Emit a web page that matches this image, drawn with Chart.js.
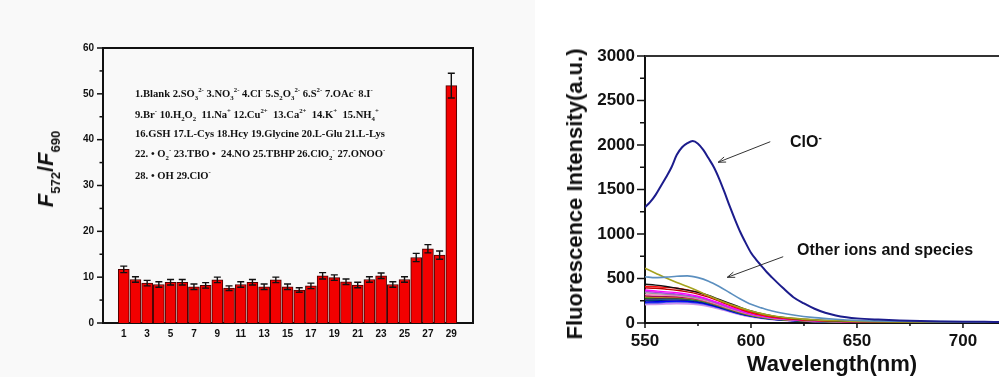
<!DOCTYPE html>
<html><head><meta charset="utf-8">
<script src="https://cdn.jsdelivr.net/npm/chart.js@4.4.0/dist/chart.umd.min.js"></script>
<style>
html,body{margin:0;padding:0;background:#fff;}
#wrap{position:relative;width:999px;height:377px;overflow:hidden;background:#fff;}
#leftBox{position:absolute;left:0;top:0;width:535px;height:377px;background:#f9f9f9;}
#rightBox{position:absolute;left:535px;top:0;width:464px;height:377px;background:#fff;}
canvas{display:block;}
.t{position:absolute;white-space:nowrap;color:#111;}
.rot{transform:translate(-50%,-50%) rotate(-90deg);}
.leg{font-family:"Liberation Serif",serif;font-weight:bold;font-size:10.6px;line-height:12px;}
.leg sub,.leg sup{font-size:6.8px;line-height:0;}
.ytl{font-family:"Liberation Sans",Arial,sans-serif;font-weight:bold;font-size:22px;}
.ytl i{font-style:italic;}
.ytl sub{font-size:13px;font-style:normal;vertical-align:-7px;line-height:0;}
.ann{font-family:"Liberation Sans",Arial,sans-serif;font-weight:bold;font-size:16px;line-height:18px;}
.ann sup{font-size:10px;line-height:0;}
</style></head>
<body>
<div id="wrap">
  <div id="leftBox"><canvas id="c1" width="535" height="377"></canvas></div>
  <div id="rightBox"><canvas id="c2" width="464" height="377"></canvas></div>

  <div class="t ytl rot" style="left:46px;top:169px;"><i>F</i><sub>572</sub>/<i>F</i><sub>690</sub></div>

  <div class="t leg" style="left:135px;top:88px;">1.Blank 2.SO<sub>3</sub><sup>2-</sup> 3.NO<sub>3</sub><sup>2-</sup> 4.Cl<sup>-</sup> 5.S<sub>2</sub>O<sub>3</sub><sup>2-</sup> 6.S<sup>2-</sup> 7.OAc<sup>-</sup> 8.I<sup>-</sup></div>
  <div class="t leg" style="left:135px;top:109px;">9.Br<sup>-</sup> 10.H<sub>2</sub>O<sub>2</sub>&nbsp; 11.Na<sup>+</sup> 12.Cu<sup>2+</sup>&nbsp; 13.Ca<sup>2+</sup>&nbsp; 14.K<sup>+</sup>&nbsp; 15.NH<sub>4</sub><sup>+</sup></div>
  <div class="t leg" style="left:135px;top:128px;">16.GSH 17.L-Cys 18.Hcy 19.Glycine 20.L-Glu 21.L-Lys</div>
  <div class="t leg" style="left:135px;top:148px;">22. • O<sub>2</sub><sup>-</sup> 23.TBO •&nbsp; 24.NO 25.TBHP 26.ClO<sub>2</sub><sup>-</sup> 27.ONOO<sup>-</sup></div>
  <div class="t leg" style="left:135px;top:170px;">28. • OH 29.ClO<sup>-</sup></div>

  <div class="t ytl rot" style="left:575px;top:194px;">Fluorescence Intensity(a.u.)</div>
  <div class="t ytl" style="left:832px;top:364px;transform:translate(-50%,-50%);">Wavelength(nm)</div>
  <div class="t ann" style="left:790px;top:133px;">ClO<sup>-</sup></div>
  <div class="t ann" style="left:797px;top:241px;">Other ions and species</div>
</div>
<script>
// ---------- Left panel data ----------
const categories = [1,2,3,4,5,6,7,8,9,10,11,12,13,14,15,16,17,18,19,20,21,22,23,24,25,26,27,28,29];
const ratioValues = [11.7,9.5,8.7,8.4,8.9,8.9,7.9,8.2,9.4,7.6,8.4,8.9,7.9,9.4,7.9,7.2,8.1,10.3,9.9,9.0,8.3,9.5,10.3,8.4,9.5,14.3,16.2,14.8,51.8];
const ratioErrors = [0.7,0.6,0.6,0.6,0.6,0.6,0.6,0.6,0.6,0.5,0.6,0.6,0.6,0.6,0.6,0.5,0.6,0.7,0.6,0.6,0.6,0.6,0.6,0.6,0.6,0.9,0.9,0.9,2.7];
const leftXTickLabels = [1,3,5,7,9,11,13,15,17,19,21,23,25,27,29];
const leftYMajor = [0,10,20,30,40,50,60];
const leftYMinor = [5,15,25,35,45,55];

// ---------- Right panel data ----------
const rightXMajor = [550,600,650,700];
const rightXMinor = [575,625,675];
const rightYMajor = [0,500,1000,1500,2000,2500,3000];
const rightYMinor = [250,750,1250,1750,2250,2750];

const wlClO = [550,552.5,555,557.5,560,562.5,565,567.5,570,572.5,575,577.5,580,582.5,585,587.5,590,592.5,595,597.5,600,602.5,605,607.5,610,615,620,625,630,635,640,645,650,660,670,680,690,700,710,717];
const intClO = [1300,1360,1440,1540,1640,1750,1890,1975,2020,2045,2015,1945,1850,1750,1620,1470,1310,1160,1020,900,790,710,640,570,510,395,290,220,160,115,85,65,52,38,28,22,18,15,13,12];

const wlOther = [550,555,560,565,570,575,580,585,590,595,600,605,610,620,630,640,650,670,690,717];
const intSteel   = [520,510,515,525,530,510,470,410,340,270,210,170,135,90,60,42,30,20,15,12];
const intOlive   = [615,560,505,455,410,360,305,255,210,170,135,105,82,52,35,25,18,12,10,8];
const intBlack   = [435,425,410,390,370,345,310,265,220,175,135,105,80,50,33,22,16,11,9,7];
const intRed     = [410,408,400,390,372,345,305,255,205,160,120,92,70,45,30,20,15,10,8,6];
const intDarkRed = [395,390,380,368,350,325,290,245,198,155,116,88,66,42,28,19,14,10,7,6];
const intMagenta = [370,360,350,340,325,300,265,225,180,140,105,80,60,38,26,18,13,9,7,6];
const intViolet  = [355,345,335,325,310,290,258,215,172,135,100,76,57,36,24,17,12,8,7,6];
const intGray    = [340,330,322,315,300,280,250,210,168,130,98,74,55,35,23,16,12,8,6,5];
const intPink    = [320,315,312,305,292,272,242,203,162,125,95,72,54,34,23,16,12,8,6,5];
const intWine    = [305,300,298,295,285,265,238,200,160,123,92,70,52,33,22,15,11,8,6,5];
const intOrange  = [295,292,292,290,280,262,235,196,157,120,90,68,50,32,21,15,11,7,6,5];
const intGreen2  = [290,288,287,285,276,258,230,193,153,117,87,65,48,30,20,14,10,7,5,4];
const intGreen   = [280,282,285,283,275,258,232,195,155,118,88,66,49,31,21,15,11,7,6,5];
const intPurple  = [270,272,276,276,270,255,228,190,150,114,85,64,48,30,20,14,10,7,5,4];
const intCyan    = [260,262,266,268,262,248,222,186,146,110,82,62,46,29,20,14,10,7,5,4];
const intNavy    = [250,252,258,260,255,240,215,180,142,107,80,60,45,28,19,13,10,6,5,4];
const intBlue    = [235,238,244,248,244,232,208,175,138,104,77,58,43,27,18,13,9,6,5,4];
const intRoyal   = [225,228,234,238,235,224,202,170,133,100,74,56,42,26,18,12,9,6,5,4];
const intLilac   = [215,218,222,226,224,214,194,163,128,96,71,54,40,25,17,12,9,6,5,4];
const intLavender= [205,208,212,216,214,205,186,157,123,92,68,51,38,24,16,11,8,6,4,4];

const otherSeries = [
  ['Steel', intSteel, '#5b8fbf'],
  ['Olive', intOlive, '#a5a21e'],
  ['Black', intBlack, '#111111'],
  ['Red', intRed, '#ff1010'],
  ['DarkRed', intDarkRed, '#c00000'],
  ['Magenta', intMagenta, '#ff00ff'],
  ['Violet', intViolet, '#b040e0'],
  ['Gray', intGray, '#9a9a9a'],
  ['Pink', intPink, '#ff80c0'],
  ['Wine', intWine, '#a01050'],
  ['Orange', intOrange, '#e08020'],
  ['Green2', intGreen2, '#20a020'],
  ['Green', intGreen, '#007a00'],
  ['Purple', intPurple, '#800080'],
  ['Cyan', intCyan, '#008080'],
  ['Navy', intNavy, '#000080'],
  ['Blue', intBlue, '#0000ff'],
  ['Royal', intRoyal, '#3050d0'],
  ['Lilac', intLilac, '#c080ff'],
  ['Lavender', intLavender, '#d0a0e0']
];

const FONT = '"Liberation Sans", Arial, sans-serif';

// tick marks drawn from the scales (major + minor)
const tickPlugin = {
  id: 'tickPlugin',
  afterDraw(chart, args, opts) {
    const ctx = chart.ctx;
    ctx.save();
    ctx.strokeStyle = '#111';
    ctx.lineWidth = opts.width || 1.5;
    const ys = chart.scales.y, xs = chart.scales.x;
    const ca = chart.chartArea;
    const drawY = (vals, len) => vals.forEach(v => {
      const p = ys.getPixelForValue(v);
      ctx.beginPath(); ctx.moveTo(ca.left - len, p); ctx.lineTo(ca.left, p); ctx.stroke();
    });
    const drawX = (vals, len) => vals.forEach(v => {
      const p = xs.getPixelForValue(v);
      ctx.beginPath(); ctx.moveTo(p, ca.bottom); ctx.lineTo(p, ca.bottom + len); ctx.stroke();
    });
    if (opts.yMajor) drawY(opts.yMajor, opts.yMajorLen);
    if (opts.yMinor) drawY(opts.yMinor, opts.yMinorLen);
    if (opts.xMajor) drawX(opts.xMajor, opts.xMajorLen);
    if (opts.xMinor) drawX(opts.xMinor, opts.xMinorLen);
    ctx.lineWidth = opts.frameWidth || 2;
    ctx.strokeStyle = opts.frameColor || '#111';
    ctx.beginPath();
    ctx.moveTo(ca.left, ca.top); ctx.lineTo(ca.right, ca.top);
    if (opts.rightFrame) ctx.lineTo(ca.right, ca.bottom);
    ctx.stroke();
    ctx.restore();
  }
};

const errorBarPlugin = {
  id: 'errorBars',
  afterDatasetsDraw(chart) {
    if (chart.canvas.id !== 'c1') return;
    const ctx = chart.ctx, xs = chart.scales.x, ys = chart.scales.y;
    ctx.save();
    ctx.strokeStyle = '#111';
    ctx.lineWidth = 1.4;
    categories.forEach((c, i) => {
      const x = xs.getPixelForValue(c);
      const yt = ys.getPixelForValue(ratioValues[i] + ratioErrors[i]);
      const yb = ys.getPixelForValue(ratioValues[i] - ratioErrors[i]);
      ctx.beginPath();
      ctx.moveTo(x, yt); ctx.lineTo(x, yb);
      ctx.moveTo(x - 3.5, yt); ctx.lineTo(x + 3.5, yt);
      ctx.moveTo(x - 3.5, yb); ctx.lineTo(x + 3.5, yb);
      ctx.stroke();
    });
    ctx.restore();
  }
};

const arrowPlugin = {
  id: 'arrows',
  afterDraw(chart, args, opts) {
    if (!opts.list) return;
    const ctx = chart.ctx, xs = chart.scales.x, ys = chart.scales.y;
    ctx.save();
    ctx.strokeStyle = '#333';
    ctx.lineWidth = 1;
    opts.list.forEach(a => {
      const x1 = xs.getPixelForValue(a.from[0]), y1 = ys.getPixelForValue(a.from[1]);
      const x2 = xs.getPixelForValue(a.to[0]), y2 = ys.getPixelForValue(a.to[1]);
      const ang = Math.atan2(y2 - y1, x2 - x1);
      ctx.beginPath(); ctx.moveTo(x1, y1); ctx.lineTo(x2, y2); ctx.stroke();
      ctx.beginPath();
      ctx.moveTo(x2 - 8 * Math.cos(ang - 0.35), y2 - 8 * Math.sin(ang - 0.35));
      ctx.lineTo(x2, y2);
      ctx.lineTo(x2 - 8 * Math.cos(ang + 0.35), y2 - 8 * Math.sin(ang + 0.35));
      ctx.stroke();
    });
    ctx.restore();
  }
};

Chart.register(tickPlugin, errorBarPlugin, arrowPlugin);

// ---------- Left chart ----------
new Chart(document.getElementById('c1'), {
  type: 'bar',
  data: {
    datasets: [{
      data: categories.map((c, i) => ({x: c, y: ratioValues[i]})),
      backgroundColor: '#f20000',
      borderColor: '#4a0000',
      borderWidth: 1,
      barThickness: 11
    }]
  },
  options: {
    responsive: false, animation: false,
    layout: {padding: {left: 0, top: 48, right: 62, bottom: 0}},
    plugins: {
      legend: {display: false}, tooltip: {enabled: false},
      tickPlugin: {yMajor: leftYMajor, yMajorLen: 6, yMinor: leftYMinor, yMinorLen: 3.5,
                   frameWidth: 2, rightFrame: true, width: 1.5}
    },
    scales: {
      x: {
        type: 'linear', min: 0.28, max: 29.8,
        afterBuildTicks: s => { s.ticks = leftXTickLabels.map(v => ({value: v})); },
        afterFit: s => { s.height = 54; },
        grid: {display: false, drawTicks: false},
        border: {display: true, color: '#111', width: 2},
        ticks: {autoSkip: false, maxRotation: 0, padding: 5, color: '#111',
                font: {family: FONT, weight: 'bold', size: 10},
                callback: v => String(v)}
      },
      y: {
        min: 0, max: 60,
        afterBuildTicks: s => { s.ticks = leftYMajor.map(v => ({value: v})); },
        afterFit: s => { s.width = 103; },
        grid: {display: false, tickLength: 6},
        border: {display: true, color: '#111', width: 2},
        ticks: {padding: 3, color: '#111', font: {family: FONT, weight: 'bold', size: 10},
                callback: v => String(v)}
      }
    }
  }
});

// ---------- Right chart ----------
const rightDatasets = [{
  data: wlClO.map((w, i) => ({x: w, y: intClO[i]})),
  borderColor: '#1c1c8c', borderWidth: 2, pointRadius: 0,
  cubicInterpolationMode: 'monotone', tension: 0.4
}].concat(otherSeries.map(s => ({
  data: wlOther.map((w, i) => ({x: w, y: s[1][i]})),
  borderColor: s[2], borderWidth: s[0] === 'Steel' || s[0] === 'Olive' ? 1.6 : 1.4, pointRadius: 0,
  cubicInterpolationMode: 'monotone', tension: 0.4
})));

new Chart(document.getElementById('c2'), {
  type: 'line',
  data: {datasets: rightDatasets},
  options: {
    responsive: false, animation: false,
    layout: {padding: {left: 0, top: 56, right: 0, bottom: 0}},
    plugins: {
      legend: {display: false}, tooltip: {enabled: false},
      tickPlugin: {yMajor: rightYMajor, yMajorLen: 8, yMinor: rightYMinor, yMinorLen: 5,
                   xMajor: rightXMajor, xMajorLen: 5, xMinor: rightXMinor, xMinorLen: 3,
                   frameWidth: 2, frameColor: '#333', rightFrame: false, width: 1.5},
      arrows: {list: [
        {from: [609.1, 2037], to: [584.5, 1806]},
        {from: [615.2, 745], to: [588.8, 513]}
      ]}
    },
    scales: {
      x: {
        type: 'linear', min: 550, max: 717,
        afterBuildTicks: s => { s.ticks = rightXMajor.map(v => ({value: v})); },
        afterFit: s => { s.height = 54; },
        grid: {display: false, tickLength: 5},
        border: {display: true, color: '#111', width: 2},
        ticks: {autoSkip: false, maxRotation: 0, padding: 3, color: '#111',
                font: {family: FONT, weight: 'bold', size: 17}, callback: v => String(v)}
      },
      y: {
        min: 0, max: 3000,
        afterBuildTicks: s => { s.ticks = rightYMajor.map(v => ({value: v})); },
        afterFit: s => { s.width = 110; },
        grid: {display: false, tickLength: 8},
        border: {display: true, color: '#111', width: 2},
        ticks: {padding: 2, color: '#111', font: {family: FONT, weight: 'bold', size: 17},
                callback: v => String(v)}
      }
    }
  }
});
</script>
</body></html>
